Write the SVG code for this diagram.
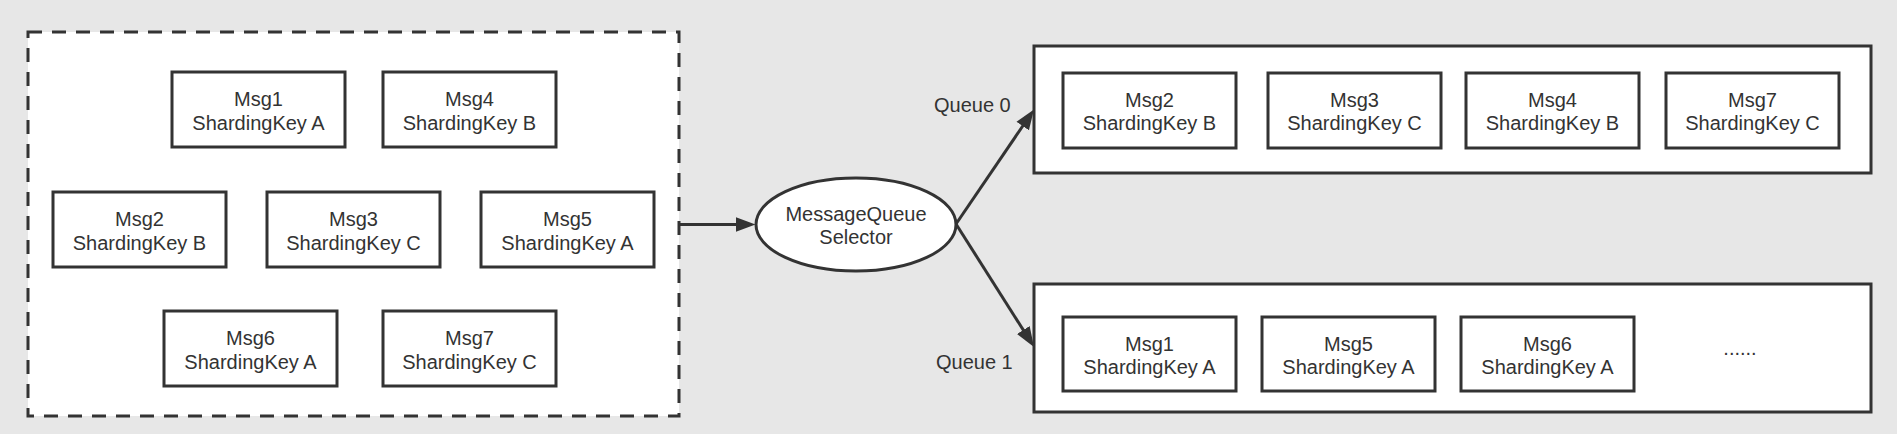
<svg xmlns="http://www.w3.org/2000/svg" width="1897" height="434" viewBox="0 0 1897 434">
<style>
.bg{fill:#e7e7e7}
.box{fill:#ffffff;stroke:#333333;stroke-width:3}
.dash{fill:#ffffff;stroke:#333333;stroke-width:3;stroke-dasharray:14 10}
.t{font-family:"Liberation Sans",Arial,sans-serif;font-size:20px;fill:#333333;text-anchor:middle}
.lbl{font-family:"Liberation Sans",Arial,sans-serif;font-size:20px;fill:#333333;text-anchor:start}
.edge{fill:none;stroke:#333333;stroke-width:3}
</style>
<defs>
<marker id="arr" markerUnits="userSpaceOnUse" markerWidth="20" markerHeight="16" refX="14" refY="7.5" orient="auto" viewBox="0 0 20 15">
<path d="M0,0 L20,7.5 L0,15 z" fill="#333333"/>
</marker>
</defs>
<rect class="bg" x="0" y="0" width="1897" height="434"/>

<g id="producer-group">
<rect class="dash" x="28" y="32" width="651" height="384"/>
</g>
<g id="p-msg1"><rect class="box" x="172" y="72" width="173" height="75"/><text class="t" x="258.5" y="106">Msg1</text><text class="t" x="258.5" y="130">ShardingKey A</text></g>
<g id="p-msg4"><rect class="box" x="383" y="72" width="173" height="75"/><text class="t" x="469.5" y="106">Msg4</text><text class="t" x="469.5" y="130">ShardingKey B</text></g>
<g id="p-msg2"><rect class="box" x="53" y="192" width="173" height="75"/><text class="t" x="139.5" y="226">Msg2</text><text class="t" x="139.5" y="250">ShardingKey B</text></g>
<g id="p-msg3"><rect class="box" x="267" y="192" width="173" height="75"/><text class="t" x="353.5" y="226">Msg3</text><text class="t" x="353.5" y="250">ShardingKey C</text></g>
<g id="p-msg5"><rect class="box" x="481" y="192" width="173" height="75"/><text class="t" x="567.5" y="226">Msg5</text><text class="t" x="567.5" y="250">ShardingKey A</text></g>
<g id="p-msg6"><rect class="box" x="164" y="311" width="173" height="75"/><text class="t" x="250.5" y="345">Msg6</text><text class="t" x="250.5" y="369">ShardingKey A</text></g>
<g id="p-msg7"><rect class="box" x="383" y="311" width="173" height="75"/><text class="t" x="469.5" y="345">Msg7</text><text class="t" x="469.5" y="369">ShardingKey C</text></g>

<g id="selector">
<ellipse cx="856" cy="224.5" rx="100" ry="46.5" fill="#ffffff" stroke="#333333" stroke-width="3"/>
<text class="t" x="856" y="221">MessageQueue</text>
<text class="t" x="856" y="244">Selector</text>
</g>

<g id="queue0">
<rect class="box" x="1034" y="46" width="837" height="127"/>
<text class="lbl" x="934" y="112">Queue 0</text>
</g>
<g id="q0-msg2"><rect class="box" x="1063" y="73" width="173" height="75"/><text class="t" x="1149.5" y="107">Msg2</text><text class="t" x="1149.5" y="130">ShardingKey B</text></g>
<g id="q0-msg3"><rect class="box" x="1268" y="73" width="173" height="75"/><text class="t" x="1354.5" y="107">Msg3</text><text class="t" x="1354.5" y="130">ShardingKey C</text></g>
<g id="q0-msg4"><rect class="box" x="1466" y="73" width="173" height="75"/><text class="t" x="1552.5" y="107">Msg4</text><text class="t" x="1552.5" y="130">ShardingKey B</text></g>
<g id="q0-msg7"><rect class="box" x="1666" y="73" width="173" height="75"/><text class="t" x="1752.5" y="107">Msg7</text><text class="t" x="1752.5" y="130">ShardingKey C</text></g>

<g id="queue1">
<rect class="box" x="1034" y="284" width="837" height="128"/>
<text class="lbl" x="936" y="369">Queue 1</text>
<text class="t" x="1740" y="355">......</text>
</g>
<g id="q1-msg1"><rect class="box" x="1063" y="317" width="173" height="74"/><text class="t" x="1149.5" y="350.5">Msg1</text><text class="t" x="1149.5" y="374">ShardingKey A</text></g>
<g id="q1-msg5"><rect class="box" x="1262" y="317" width="173" height="74"/><text class="t" x="1348.5" y="350.5">Msg5</text><text class="t" x="1348.5" y="374">ShardingKey A</text></g>
<g id="q1-msg6"><rect class="box" x="1461" y="317" width="173" height="74"/><text class="t" x="1547.5" y="350.5">Msg6</text><text class="t" x="1547.5" y="374">ShardingKey A</text></g>

<g id="connectors">
<path class="edge" d="M679,224.5 L749.5,224.5" marker-end="url(#arr)"/>
<path class="edge" d="M956,224 L1030.6,114.5" marker-end="url(#arr)"/>
<path class="edge" d="M956,224 L1030.8,341.9" marker-end="url(#arr)"/>
</g>
</svg>
